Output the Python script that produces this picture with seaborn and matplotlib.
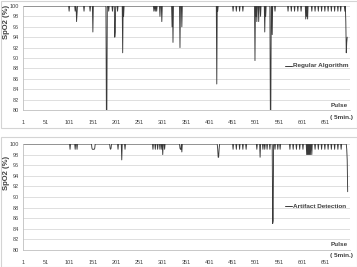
import numpy as np
import pandas as pd
import matplotlib
matplotlib.use("Agg")
import matplotlib.pyplot as plt
import seaborn as sns
from matplotlib.patches import Rectangle

# ---------------- data ----------------
baseline = 100
n_top = 697
n_bot = 698

# Regular Algorithm: pulse index -> SpO2 at dips (otherwise baseline 100)
top_dip_idx = [100, 113, 116, 117, 132, 145, 151, 180, 181, 185, 193, 198, 199, 204,
               215, 217, 282, 285, 288, 295, 299, 321, 323, 338, 342,
               417, 419, 452, 459, 466, 473, 499, 501, 503, 507, 511, 520,
               522, 532, 533, 536, 542, 570, 577, 584, 591, 598,
               608, 610, 612, 621, 628, 635, 642, 649, 656, 663,
               670, 677, 683, 692, 694, 695, 696, 697]
top_dip_val = [99, 99, 97, 98.5, 99, 99, 95, 80, 80, 99, 99, 94, 95, 99,
               91, 98, 99, 99, 99, 98, 97, 96, 93, 92, 96,
               85, 99, 99, 99, 99, 99, 89.5, 98, 97, 97, 98, 95,
               98, 80, 80, 94.5, 99, 99, 99, 99, 99, 99,
               97.5, 98, 97.5, 99, 99, 99, 99, 99, 99, 99,
               99, 99, 99, 99, 97, 91, 93, 94]

# Artifact Detection
bot_dip_idx = [102, 113, 117, 149, 150, 151, 152, 153, 154, 155, 188, 189, 190, 205,
               213, 220, 280, 285, 290, 295, 299, 301, 305, 338, 339, 340,
               342, 419, 420, 421, 422, 452, 459, 466, 473, 480, 503, 510, 516,
               520, 525, 531, 537, 538, 542, 548, 553, 574, 581, 588, 595, 602,
               610, 612, 614, 616, 618, 621, 628, 635, 642, 649, 656, 663, 670,
               677, 684, 696, 697, 698]
bot_dip_val = [99, 99, 99, 99.2, 99, 99, 99, 99, 99, 99.2, 99.2, 99, 99.2, 99,
               97, 99, 99, 99, 99, 99, 99, 98, 99, 99.2, 99, 99,
               98.5, 99, 97.5, 97.5, 99, 99, 99, 99, 99, 99, 99, 97.5, 99,
               99, 99, 99, 85, 85.5, 99, 99, 99, 99, 99, 99, 99, 99,
               98, 98, 98, 98, 98, 98, 99, 99, 99, 99, 99, 99, 99,
               99, 99, 99, 97, 91]

x_tick_labels = [1, 51, 101, 151, 201, 251, 301, 351, 401, 451, 501, 551, 601, 651]
y_ticks = list(range(80, 101, 2))
series_names = ["Regular Algorithm", "Artifact Detection"]


def build(n, idx, val):
    y = np.full(n, float(baseline))
    for i, v in zip(idx, val):
        y[i - 1] = v
    return pd.DataFrame({"pulse": np.arange(1, n + 1), "spo2": y})


df_top = build(n_top, top_dip_idx, top_dip_val)
df_bot = build(n_bot, bot_dip_idx, bot_dip_val)

# ---------------- style ----------------
sns.set_theme(style="white")
plt.rcParams["font.family"] = ["Liberation Sans", "DejaVu Sans"]

W, H = 357, 267
fig = plt.figure(figsize=(W / 100, H / 100), dpi=100)

# chart frames
for (y0, y1) in [(0.5, 128), (137, 266.5)]:
    fig.patches.append(Rectangle((0.5 / W, 1 - y1 / H), (W - 1) / W, (y1 - y0) / H,
                                 transform=fig.transFigure, fill=False,
                                 edgecolor="#d4d4d4", lw=0.8))


def ax_rect(top_px, bot_px, left_px=23, right_px=350):
    return [left_px / W, 1 - bot_px / H, (right_px - left_px) / W, (bot_px - top_px) / H]


panels = [
    (ax_rect(6, 110), df_top, series_names[0], 22, 66, 105, 117),
    (ax_rect(144, 250), df_bot, series_names[1], 173, 206, 245, 256),
]

for rect, df, name, ylab_y, leg_y, pulse_y, min_y in panels:
    ax = fig.add_axes(rect)
    sns.lineplot(data=df, x="pulse", y="spo2", ax=ax, color="#3a3a3a", lw=0.65,
                 legend=False)
    ax.set_xlim(1, 703)
    ax.set_ylim(80, 100)
    ax.set_yticks(y_ticks)
    ax.set_yticklabels([str(t) for t in y_ticks], fontsize=4, color="#404040")
    ax.set_xticks(x_tick_labels)
    ax.set_xticklabels([str(t) for t in x_tick_labels], fontsize=4, color="#404040")
    ax.tick_params(axis="x", length=2, width=0.5, color="#bfbfbf", pad=5.5)
    ax.tick_params(axis="y", length=0, pad=3)
    ax.grid(axis="y", color="#d9d9d9", lw=0.6)
    ax.set_axisbelow(True)
    for s in ["top", "right"]:
        ax.spines[s].set_visible(False)
    for s in ["left", "bottom"]:
        ax.spines[s].set_color("#bfbfbf")
        ax.spines[s].set_linewidth(0.6)
    ax.set_xlabel("")
    ax.set_ylabel("")

    fig.text(6 / W, 1 - ylab_y / H, "SpO2 (%)", rotation=90, ha="center", va="center",
             fontsize=5.5, fontweight="bold", color="#404040")
    # legend entry
    fig.lines.append(plt.Line2D([285 / W, 292 / W], [1 - leg_y / H, 1 - leg_y / H],
                                transform=fig.transFigure, color="#3a3a3a", lw=0.7))
    fig.text(293 / W, 1 - leg_y / H, name, ha="left", va="center", fontsize=4.6,
             fontweight="bold", color="#404040")
    fig.text(331 / W, 1 - pulse_y / H, "Pulse", ha="left", va="center", fontsize=4.6,
             fontweight="bold", color="#404040")
    fig.text(330 / W, 1 - min_y / H, "( 5min.)", ha="left", va="center", fontsize=4.6,
             fontweight="bold", color="#404040")

fig.savefig("out.png", dpi=100)
